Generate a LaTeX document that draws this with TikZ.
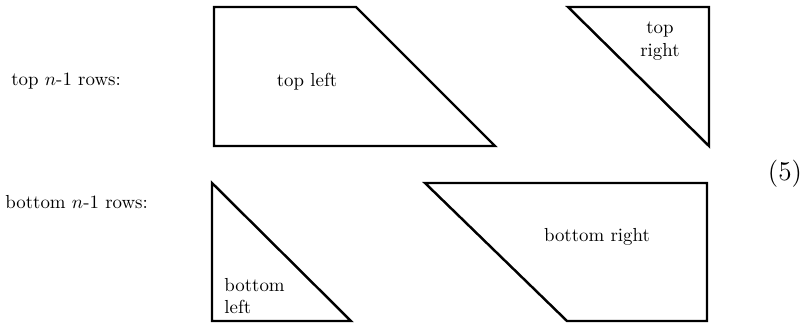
\documentclass[tikz,border=0pt]{standalone}
\usetikzlibrary{positioning}

\begin{document}
\begin{tikzpicture}[
x=0.53pt,
y=-0.53pt,
region/.style={
draw=black,
line width=1.3pt,
line join=miter
},
lbl/.style={
inner sep=0pt,
align=center
},
rowlbl/.style={
inner sep=0pt,
anchor=west
}
]
\useasboundingbox (0,0) rectangle (809,324);

% top row
\draw [region] (214,7) -- (356,7) -- (495,146) -- (214,146) -- cycle;
\draw [region] (568,7) -- (709,7) -- (709,146) -- cycle;

% bottom row
\draw [region] (212,183) -- (351,321) -- (212,321) -- cycle;
\draw [region] (425,183) -- (707,183) -- (707,321) -- (567,321) -- cycle;

\node (toprows) [rowlbl] at (11,81) {top $n$-1 rows:};
\node (botrows) [rowlbl] at (5,202) {bottom $n$-1 rows:};

\node (tl) [lbl] at (307,82) {top left};
\node (tr) [lbl] at (660,41) {top\\right};
\node (bl) [lbl, align=left, anchor=west] at (224,296) {bottom\\left};
\node (br) [lbl] at (597,237) {bottom right};

\node (eqno) [lbl, font=\Large] at (785,174) {(5)};

\end{tikzpicture}
\end{document}
